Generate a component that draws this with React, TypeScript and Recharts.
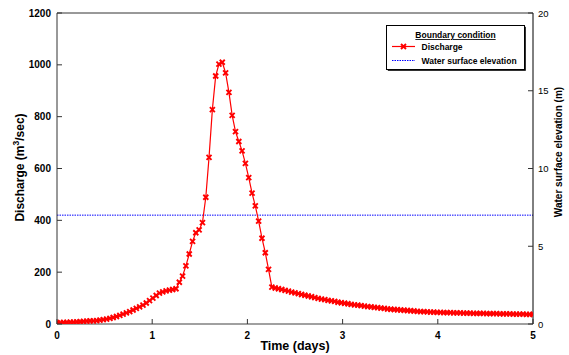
import React from 'react';
import { LineChart, Line, XAxis, YAxis, ReferenceLine, Legend } from 'recharts';

// Time (days) of each discharge sample
const TIME_DAYS = [
  0, 0.035, 0.069, 0.104, 0.139, 0.174, 0.208, 0.243, 0.278, 0.313,
  0.347, 0.382, 0.417, 0.451, 0.486, 0.521, 0.556, 0.59, 0.625, 0.66,
  0.694, 0.729, 0.764, 0.799, 0.833, 0.868, 0.903, 0.938, 0.972, 1.007,
  1.042, 1.076, 1.111, 1.146, 1.181, 1.215, 1.25, 1.285, 1.319, 1.354,
  1.389, 1.424, 1.458, 1.493, 1.528, 1.563, 1.597, 1.632, 1.667, 1.701,
  1.736, 1.771, 1.806, 1.84, 1.875, 1.91, 1.944, 1.979, 2.014, 2.049,
  2.083, 2.118, 2.153, 2.188, 2.222, 2.257, 2.292, 2.326, 2.361, 2.396,
  2.431, 2.465, 2.5, 2.535, 2.569, 2.604, 2.639, 2.674, 2.708, 2.743,
  2.778, 2.813, 2.847, 2.882, 2.917, 2.951, 2.986, 3.021, 3.056, 3.09,
  3.125, 3.16, 3.194, 3.229, 3.264, 3.299, 3.333, 3.368, 3.403, 3.438,
  3.472, 3.507, 3.542, 3.576, 3.611, 3.646, 3.681, 3.715, 3.75, 3.785,
  3.819, 3.854, 3.889, 3.924, 3.958, 3.993, 4.028, 4.063, 4.097, 4.132,
  4.167, 4.201, 4.236, 4.271, 4.306, 4.34, 4.375, 4.41, 4.444, 4.479,
  4.514, 4.549, 4.583, 4.618, 4.653, 4.688, 4.722, 4.757, 4.792, 4.826,
  4.861, 4.896, 4.931, 4.965, 5,
];

// Discharge (m3/sec)
const DISCHARGE = [
  5, 5, 6, 6, 7, 7, 8, 9, 10, 11,
  12, 12, 13, 15, 17, 19, 22, 25, 29, 33,
  38, 43, 48, 54, 60, 66, 73, 81, 90, 100,
  110, 119, 124, 128, 131, 133, 136, 161, 185, 224,
  270, 319, 352, 363, 391, 489, 643, 827, 957, 1003,
  1010, 969, 894, 805, 742, 704, 668, 620, 565, 505,
  456, 397, 331, 275, 211, 142, 139, 136, 133, 130,
  127, 123, 120, 117, 114, 111, 108, 105, 102, 99,
  96, 94, 91, 89, 87, 84, 82, 80, 78, 76,
  74, 73, 71, 69, 67, 66, 64, 63, 61, 60,
  58, 57, 56, 55, 54, 53, 52, 51, 50, 49,
  48, 48, 47, 46, 46, 45, 45, 44, 44, 44,
  43, 43, 43, 42, 42, 42, 41, 41, 41, 41,
  40, 40, 40, 40, 39, 39, 39, 39, 38, 38,
  38, 38, 37, 37, 37,
];

// Water surface elevation (m)
const WSE_TIME = [0, 5];
const WSE_LEVEL = [7, 7];

const X_TICKS = [0, 1, 2, 3, 4, 5];
const LEFT_TICKS = [0, 200, 400, 600, 800, 1000, 1200];
const RIGHT_TICKS = [0, 5, 10, 15, 20];

const dischargeData = TIME_DAYS.map((t, i) => ({ t, q: DISCHARGE[i] }));
const wseData = WSE_TIME.map((t, i) => ({ t, wse: WSE_LEVEL[i] }));

const FONT = '"Liberation Sans", Arial, Helvetica, sans-serif';
const RED = '#ff0000';
const BLUE = '#0000ff';

const XMark = (props: any) => {
  const { cx, cy } = props;
  if (cx == null || cy == null) return null;
  const s = 2.5;
  const d = `M${cx - s},${cy - s}L${cx + s},${cy + s}M${cx + s},${cy - s}L${cx - s},${cy + s}`;
  return <path d={d} stroke={RED} strokeWidth={1.9} fill="none" />;
};

const LeftTick = (props: any) => {
  const { x, y, payload } = props;
  const ax = x + 6;
  return (
    <g>
      <line x1={ax} x2={ax + 5} y1={y} y2={y} stroke="#333" strokeWidth={1} />
      <text x={x} y={y} textAnchor="end" dominantBaseline="central" fontSize={10} fontWeight="bold" fill="#000" fontFamily={FONT}>
        {payload.value}
      </text>
    </g>
  );
};

const RightTick = (props: any) => {
  const { x, y, payload } = props;
  const ax = x - 5;
  return (
    <g>
      <line x1={ax} x2={ax - 5} y1={y} y2={y} stroke="#333" strokeWidth={1} />
      <text x={x} y={y} textAnchor="start" dominantBaseline="central" fontSize={9.5} fill="#000" fontFamily={FONT}>
        {payload.value}
      </text>
    </g>
  );
};

const BottomTick = (props: any) => {
  const { x, y, payload } = props;
  const ay = y - 6;
  return (
    <g>
      <line x1={x} x2={x} y1={ay} y2={ay - 5} stroke="#333" strokeWidth={1} />
      <text x={x} y={ay + 15} textAnchor="middle" fontSize={10} fontWeight="bold" fill="#000" fontFamily={FONT}>
        {payload.value}
      </text>
    </g>
  );
};

const XTitle = (props: any) => {
  const vb = props.viewBox || {};
  const cx = vb.x + vb.width / 2;
  return (
    <text x={cx} y={350} textAnchor="middle" fontSize={12.5} fontWeight="bold" fill="#000" fontFamily={FONT}>
      Time (days)
    </text>
  );
};

const LeftTitle = (props: any) => {
  const vb = props.viewBox || {};
  const cx = vb.x + 20;
  const cy = vb.y + vb.height / 2 - 1;
  return (
    <text x={cx} y={cy} transform={`rotate(-90 ${cx} ${cy})`} textAnchor="middle" dominantBaseline="central" fontSize={12} fontWeight="bold" fill="#000" fontFamily={FONT}>
      Discharge (m<tspan dy={-4} fontSize={8.5}>3</tspan>
      <tspan dy={4}>/sec)</tspan>
    </text>
  );
};

const RightTitle = (props: any) => {
  const vb = props.viewBox || {};
  const cx = vb.x + 25;
  const cy = 152;
  return (
    <text x={cx} y={cy} transform={`rotate(-90 ${cx} ${cy})`} textAnchor="middle" dominantBaseline="central" fontSize={10} fontWeight="bold" fill="#000" fontFamily={FONT}>
      Water surface elevation (m)
    </text>
  );
};

const LegendBox = (props: any) => {
  const payload: any[] = (props.payload || []).slice();
  const order = ['q', 'wse'];
  payload.sort((a, b) => order.indexOf(a.dataKey) - order.indexOf(b.dataKey));
  return (
    <svg width={142} height={48} style={{ display: 'block', overflow: 'visible' }}>
      <rect x={1.8} y={1.8} width={138} height={44} fill="#000" />
      <rect x={0.5} y={0.5} width={138} height={44} fill="#fff" stroke="#000" strokeWidth={1} />
      <text x={69.5} y={13} textAnchor="middle" fontSize={8.5} fontWeight="bold" fill="#000" textDecoration="underline" fontFamily={FONT}>
        Boundary condition
      </text>
      {payload.map((entry) => {
        const isQ = entry.dataKey === 'q';
        const cy = isQ ? 21.5 : 35.5;
        return (
          <g key={String(entry.dataKey)}>
            <line x1={6} x2={29} y1={cy} y2={cy} stroke={entry.color} strokeWidth={isQ ? 1.2 : 1} strokeDasharray={isQ ? undefined : '1.5 1'} />
            {isQ ? <XMark cx={17.5} cy={cy} /> : null}
            <text x={35.5} y={cy} dominantBaseline="central" fontSize={8.5} fontWeight="bold" fill="#000" fontFamily={FONT}>
              {entry.value}
            </text>
          </g>
        );
      })}
    </svg>
  );
};

export default function App() {
  return (
    <div style={{ position: 'absolute', left: 0, top: 0, width: 569, height: 355, background: '#fff', fontFamily: FONT }}>
      <LineChart width={569} height={355} data={dischargeData} margin={{ top: 13, right: 0, bottom: 0, left: 0 }}>
        <XAxis
          dataKey="t"
          type="number"
          domain={[0, 5]}
          ticks={X_TICKS}
          height={31}
          tickSize={6}
          tickMargin={0}
          tickLine={false}
          tick={<BottomTick />}
          axisLine={{ stroke: '#808080', strokeWidth: 1.5 }}
          label={XTitle}
          allowDataOverflow
        />
        <YAxis
          yAxisId="left"
          width={57}
          domain={[0, 1200]}
          ticks={LEFT_TICKS}
          tickSize={6}
          tickMargin={0}
          tickLine={false}
          tick={<LeftTick />}
          axisLine={{ stroke: '#333' }}
          label={LeftTitle}
          allowDataOverflow
        />
        <YAxis
          yAxisId="right"
          orientation="right"
          width={36}
          domain={[0, 20]}
          ticks={RIGHT_TICKS}
          tickSize={5}
          tickMargin={0}
          tickLine={false}
          tick={<RightTick />}
          axisLine={{ stroke: '#000' }}
          label={RightTitle}
          allowDataOverflow
        />
        <ReferenceLine yAxisId="left" y={1200} stroke="#333" strokeWidth={1} />
        <Legend
          layout="vertical"
          align="center"
          verticalAlign="middle"
          content={LegendBox}
          wrapperStyle={{ left: 386, top: 25, width: 142, height: 48 }}
        />
        <Line
          yAxisId="right"
          data={wseData}
          dataKey="wse"
          name="Water surface elevation"
          type="linear"
          stroke={BLUE}
          strokeWidth={1}
          strokeDasharray="1.5 1"
          dot={false}
          activeDot={false}
          isAnimationActive={false}
        />
        <Line
          yAxisId="left"
          dataKey="q"
          name="Discharge"
          type="linear"
          stroke={RED}
          strokeWidth={1.2}
          dot={<XMark />}
          activeDot={false}
          isAnimationActive={false}
        />
      </LineChart>
    </div>
  );
}
